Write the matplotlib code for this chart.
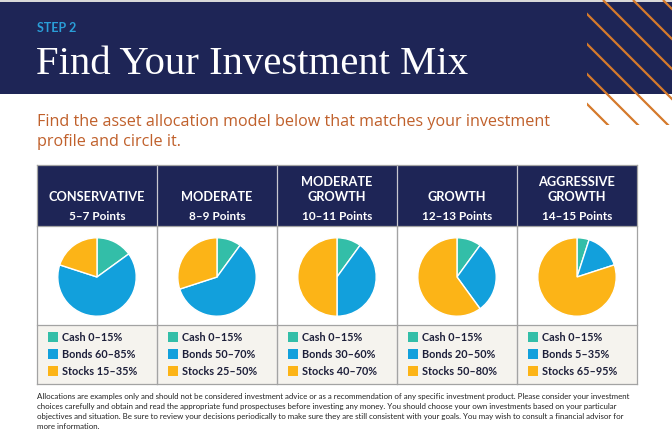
"""Step 2 card: find your investment mix."""

import matplotlib

matplotlib.use("Agg")

import matplotlib.pyplot as plt
from matplotlib.patches import Rectangle

# ---- data -------------------------------------------------------------
profiles = ["CONSERVATIVE", "MODERATE", "MODERATE\nGROWTH", "GROWTH", "AGGRESSIVE\nGROWTH"]
points = ["5–7 Points", "8–9 Points", "10–11 Points", "12–13 Points", "14–15 Points"]
cash = [15, 10, 10, 10, 5]
bonds = [65, 60, 40, 30, 15]
stocks = [20, 30, 50, 60, 80]
cash_ranges = ["0–15%", "0–15%", "0–15%", "0–15%", "0–15%"]
bond_ranges = ["60–85%", "50–70%", "30–60%", "20–50%", "5–35%"]
stock_ranges = ["15–35%", "25–50%", "40–70%", "50–80%", "65–95%"]
asset_names = ["Cash", "Bonds", "Stocks"]

footer_lines = [
    "Allocations are examples only and should not be considered investment advice or as a recommendation of any specific investment product. Please consider your investment",
    "choices carefully and obtain and read the appropriate fund prospectuses before investing any money. You should choose your own investments based on your particular",
    "objectives and situation. Be sure to review your decisions periodically to make sure they are still consistent with your goals. You may wish to consult a financial advisor for",
    "more information.",
]

# ---- style ------------------------------------------------------------
NAVY = "#1e2556"
ORANGE = "#d57a2c"
SUB = "#c0602b"
STEP_BLUE = "#2a9ed8"
TEXT = "#1d1f3a"
GRID = "#a3a3a3"
LEGEND_BG = "#f5f3ee"
COLORS = ["#33bea8", "#12a0dc", "#fcb417"]
SANS = ["Lato", "DejaVu Sans"]

W, H = 672, 444
fig = plt.figure(figsize=(W / 100, H / 100), dpi=100)
ax = fig.add_axes([0, 0, 1, 1])
ax.set_xlim(0, W)
ax.set_ylim(H, 0)
ax.axis("off")

# header band
ax.add_patch(Rectangle((0, 0), W, 2, color="#d9d9d9", lw=0))
ax.add_patch(Rectangle((0, 2), W, 92, color=NAVY, lw=0))

# orange stripes, clipped to the top-right corner
clip = Rectangle((587, 0), W - 587, 125, transform=ax.transData, fill=False, lw=0)
ax.add_patch(clip)
for c in range(483, 700, 30):
    (ln,) = ax.plot([c, c + 200], [0, 200], color=ORANGE, lw=1.6, solid_capstyle="butt")
    ln.set_clip_path(clip)

ax.text(37, 28, "STEP 2", color=STEP_BLUE, fontsize=9, fontweight="bold",
        family=SANS, va="center", ha="left")
ax.text(36, 74, "Find Your Investment Mix", color="white", fontsize=29.3,
        family="Liberation Serif", va="baseline", ha="left")

sub_font = ["Open Sans", "DejaVu Sans"]
ax.text(37, 122, "Find the asset allocation model below that matches your investment",
        color=SUB, fontsize=11.6, family=sub_font, va="center", ha="left")
ax.text(37, 142, "profile and circle it.", color=SUB, fontsize=11.6, family=sub_font,
        va="center", ha="left")

# ---- table ------------------------------------------------------------
x0, col_w = 37, 120
top, head_h, pie_h, leg_h = 165, 61, 99, 59
n = len(profiles)
right = x0 + n * col_w
y_pie = top + head_h
y_leg = y_pie + pie_h
bottom = y_leg + leg_h

ax.add_patch(Rectangle((x0, top), n * col_w, head_h, color=NAVY, lw=0))
ax.add_patch(Rectangle((x0, y_pie), n * col_w, pie_h, color="white", lw=0))
ax.add_patch(Rectangle((x0, y_leg), n * col_w, leg_h, color=LEGEND_BG, lw=0))

for i in range(n + 1):
    x = x0 + i * col_w
    ax.plot([x, x], [top, bottom], color=GRID if i in (0, n) else "#c8c8d0", lw=0.9)
    if 0 < i < n:
        ax.plot([x, x], [y_pie, bottom], color=GRID, lw=0.9)
for y in (top, y_pie, y_leg, bottom):
    ax.plot([x0, right], [y, y], color=GRID, lw=0.9)

for i in range(n):
    cx = x0 + col_w * (i + 0.5)

    # header
    name_lines = profiles[i].split("\n")
    for k, line in enumerate(reversed(name_lines)):
        ax.text(cx, 196.5 - 15 * k, line, color="white", fontsize=9.2, fontweight="bold",
                family=SANS, ha="center", va="center")
    ax.text(cx, 216.5, points[i], color="white", fontsize=8.5, fontweight="bold",
            family=SANS, ha="center", va="center")

    # pie
    r, cy = 40, y_pie + 51
    pax = fig.add_axes([(cx - r) / W, (H - cy - r) / H, 2 * r / W, 2 * r / H])
    pax.pie([cash[i], bonds[i], stocks[i]], colors=COLORS, startangle=90,
            counterclock=False, wedgeprops={"edgecolor": "white", "linewidth": 1.0})
    pax.set_xlim(-1.02, 1.02)
    pax.set_ylim(-1.02, 1.02)

    # legend
    labels = [cash_ranges[i], bond_ranges[i], stock_ranges[i]]
    for k, (name, rng) in enumerate(zip(asset_names, labels)):
        ly = 337 + 17.2 * k
        ax.add_patch(Rectangle((x0 + col_w * i + 11, ly - 5), 10, 10,
                               color=COLORS[k], lw=0))
        ax.text(x0 + col_w * i + 25.5, ly, f"{name} {rng}", color=TEXT, fontsize=7.8,
                fontweight="bold", family=SANS, ha="left", va="center")

# footer
for k, line in enumerate(footer_lines):
    ax.text(37, 396 + 10.2 * k, line, color="#222222", fontsize=5.7, family=SANS,
            ha="left", va="center")

fig.savefig("out.png", dpi=100)
plt.close(fig)
